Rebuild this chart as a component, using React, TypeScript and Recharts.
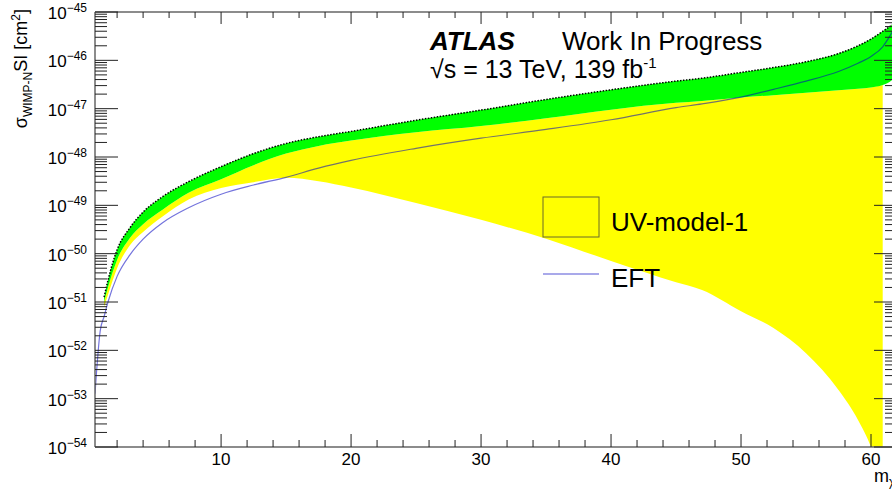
import React from 'react';
import { ComposedChart, Area, Line, XAxis, YAxis } from 'recharts';

// WIMP mass [GeV]
const massGeV: number[] = [0.3, 0.7, 1.0, 1.3, 2, 3, 4, 5.5, 7.5, 10, 12.5, 15, 17.5, 20, 25, 30, 35, 40, 45, 47, 50, 52.5, 55, 57.5, 59, 60, 60.9, 61.6, 62];
// log10 of cross sections [cm^2]
const upperLog: (number | null)[] = [null, null, -50.9, -50.55, -49.92, -49.46, -49.14, -48.82, -48.51, -48.2, -47.93, -47.72, -47.58, -47.47, -47.24, -47.03, -46.81, -46.61, -46.43, -46.37, -46.25, -46.15, -46.03, -45.86, -45.7, -45.56, -45.4, -45.27, -45.18];
const middleLog: (number | null)[] = [null, null, -51.0, -50.7, -50.13, -49.67, -49.39, -49.09, -48.74, -48.46, -48.17, -47.93, -47.77, -47.66, -47.49, -47.36, -47.2, -47.02, -46.88, -46.84, -46.77, -46.72, -46.67, -46.62, -46.59, -46.56, -46.51, -46.41, -46.3];
const lowerLog: (number | null)[] = [null, null, -51.1, -50.85, -50.3, -49.82, -49.55, -49.23, -48.88, -48.64, -48.52, -48.43, -48.5, -48.63, -48.95, -49.3, -49.69, -50.15, -50.59, -50.75, -51.19, -51.54, -52.06, -52.82, -53.44, -54.0, -54.8, null, null];
const eftLog: (number | null)[] = [-52.9, -51.6, -51.3, -51.0, -50.47, -50.02, -49.7, -49.36, -49.05, -48.77, -48.58, -48.42, -48.23, -48.07, -47.82, -47.61, -47.43, -47.23, -46.98, -46.9, -46.76, -46.6, -46.43, -46.23, -46.06, -45.92, -45.72, -45.43, -45.25];

const yMajorTicks: number[] = [-54, -53, -52, -51, -50, -49, -48, -47, -46, -45];
const xMajorTicks: number[] = [10, 20, 30, 40, 50, 60];
const xMinorTicks: number[] = [2, 4, 6, 8, 12, 14, 16, 18, 22, 24, 26, 28, 32, 34, 36, 38, 42, 44, 46, 48, 52, 54, 56, 58];
const xDomain: [number, number] = [0.3, 62];
const yDomain: [number, number] = [-54, -45];

const yMinorTicks: number[] = [];
yMajorTicks.slice(0, -1).forEach((d) => {
  for (let k = 2; k <= 9; k++) yMinorTicks.push(d + Math.log10(k));
});
const yAllTicks = [...yMajorTicks, ...yMinorTicks].sort((a, b) => a - b);
const xAllTicks = [...xMajorTicks, ...xMinorTicks].sort((a, b) => a - b);

const data = massGeV.map((m, i) => ({
  m,
  yellow: lowerLog[i] != null && middleLog[i] != null ? [lowerLog[i], middleLog[i]] : null,
  green: middleLog[i] != null && upperLog[i] != null ? [middleLog[i], upperLog[i]] : null,
  upper: upperLog[i],
  eft: eftLog[i],
}));

const FONT = '"Liberation Sans", Arial, Helvetica, sans-serif';
const isMajor = (v: number) => Math.abs(v - Math.round(v)) < 1e-9;
const isTen = (v: number) => Math.abs(v / 10 - Math.round(v / 10)) < 1e-9;

const LeftTick = (props: any) => {
  const { x, y, payload } = props;
  const v = payload.value;
  const major = isMajor(v);
  return (
    <g>
      <line x1={x} x2={x + (major ? 23 : 12)} y1={y} y2={y} stroke="#222" strokeWidth={1} />
      {major && (
        <text x={x - 8} y={y + 7} textAnchor="end" fontFamily={FONT} fill="#000">
          <tspan fontSize={17}>10</tspan>
          <tspan fontSize={12} dy={-7}>{`\u2212${Math.round(-v)}`}</tspan>
        </text>
      )}
    </g>
  );
};

const RightTick = (props: any) => {
  const { x, y, payload } = props;
  const major = isMajor(payload.value);
  return <line x1={x} x2={x - (major ? 23 : 12)} y1={y} y2={y} stroke="#222" strokeWidth={1} />;
};

const BottomTick = (props: any) => {
  const { x, y, payload } = props;
  const major = isTen(payload.value);
  return (
    <g>
      <line x1={x} x2={x} y1={y} y2={y - (major ? 13 : 7)} stroke="#222" strokeWidth={1} />
      {major && (
        <text x={x} y={y + 18} textAnchor="middle" fontFamily={FONT} fontSize={17} fill="#000">
          {payload.value}
        </text>
      )}
    </g>
  );
};

const TopTick = (props: any) => {
  const { x, y, payload } = props;
  const major = isTen(payload.value);
  return <line x1={x} x2={x} y1={y} y2={y + (major ? 12 : 6)} stroke="#222" strokeWidth={1} />;
};

export default function App() {
  return (
    <div style={{ position: 'fixed', left: 0, top: 0, width: 892, height: 489, overflow: 'hidden', background: '#fff' }}>
      <ComposedChart width={910} height={489} data={data} margin={{ top: 11, right: 12, bottom: 0, left: 0 }}>
        <XAxis xAxisId="bottom" dataKey="m" type="number" domain={xDomain} ticks={xAllTicks} interval={0}
          allowDataOverflow orientation="bottom" height={42} tickSize={0} tickMargin={0} tickLine={false}
          axisLine={{ stroke: '#666', strokeWidth: 1.5 }} tick={<BottomTick />} />
        <XAxis xAxisId="top" dataKey="m" type="number" domain={xDomain} ticks={xAllTicks} interval={0}
          allowDataOverflow orientation="top" height={1} tickSize={0} tickMargin={0} tickLine={false}
          axisLine={{ stroke: '#666', strokeWidth: 1.5 }} tick={<TopTick />} />
        <YAxis yAxisId="left" type="number" domain={yDomain} ticks={yAllTicks} interval={0}
          allowDataOverflow orientation="left" width={95} tickSize={0} tickMargin={0} tickLine={false}
          axisLine={{ stroke: '#666', strokeWidth: 1.5 }} tick={<LeftTick />} />
        <YAxis yAxisId="right" type="number" domain={yDomain} ticks={yAllTicks} interval={0}
          allowDataOverflow orientation="right" width={1} tickSize={0} tickMargin={0} tickLine={false}
          axisLine={{ stroke: '#666', strokeWidth: 1.5 }} tick={<RightTick />} />

        <Area xAxisId="bottom" yAxisId="left" dataKey="yellow" type="monotone" stroke="none" fill="#ffff00"
          fillOpacity={1} isAnimationActive={false} dot={false} activeDot={false} />
        <Area xAxisId="bottom" yAxisId="left" dataKey="green" type="monotone" stroke="none" fill="#00ff00"
          fillOpacity={1} isAnimationActive={false} dot={false} activeDot={false} />
        <Line xAxisId="bottom" yAxisId="left" dataKey="upper" type="monotone" stroke="#000" strokeWidth={1.5}
          strokeDasharray="1.5 1.5" dot={false} activeDot={false} isAnimationActive={false} />
        <Line xAxisId="bottom" yAxisId="left" dataKey="eft" type="monotone" stroke="#0000c0" strokeOpacity={0.55}
          strokeWidth={1.2} dot={false} activeDot={false} isAnimationActive={false} />
        <Line xAxisId="top" yAxisId="right" dataKey="eft" type="monotone" stroke="none" dot={false}
          activeDot={false} isAnimationActive={false} />
      </ComposedChart>

      <svg width={892} height={489} style={{ position: 'absolute', left: 0, top: 0, pointerEvents: 'none' }}>
        <text transform="rotate(-90, 27, 9)" x={27} y={9} textAnchor="end" fontFamily={FONT} fontSize={18} fill="#000">
          <tspan>σ</tspan>
          <tspan fontSize={12} dy={5}>WIMP-N</tspan>
          <tspan fontSize={18} dy={-5}>SI [cm</tspan>
          <tspan fontSize={12} dy={-7}>2</tspan>
          <tspan fontSize={18} dy={7}>]</tspan>
        </text>

        <text x={874} y={482} fontFamily={FONT} fontSize={18} fill="#000">
          <tspan>m</tspan>
          <tspan fontSize={12} dy={4}>χ</tspan>
          <tspan fontSize={18} dy={-4}> [GeV]</tspan>
        </text>

        <text x={430} y={50} fontFamily={FONT} fontSize={26} fontWeight="bold" fontStyle="italic" fill="#000">ATLAS</text>
        <text x={562} y={50} fontFamily={FONT} fontSize={26} fill="#000">Work In Progress</text>
        <text x={430} y={78} fontFamily={FONT} fontSize={25} fill="#000">
          <tspan>√s = 13 TeV, 139 fb</tspan>
          <tspan fontSize={15} dy={-10}>-1</tspan>
        </text>

        <rect x={543} y={197} width={56} height={40} fill="#ffff00" stroke="#6b6b2a" strokeWidth={1} />
        <text x={611} y={231} fontFamily={FONT} fontSize={26} fill="#000">UV-model-1</text>
        <line x1={543} x2={599} y1={274} y2={274} stroke="#0000c0" strokeOpacity={0.45} strokeWidth={1.5} />
        <text x={611} y={287} fontFamily={FONT} fontSize={26} fill="#000">EFT</text>
      </svg>
    </div>
  );
}
